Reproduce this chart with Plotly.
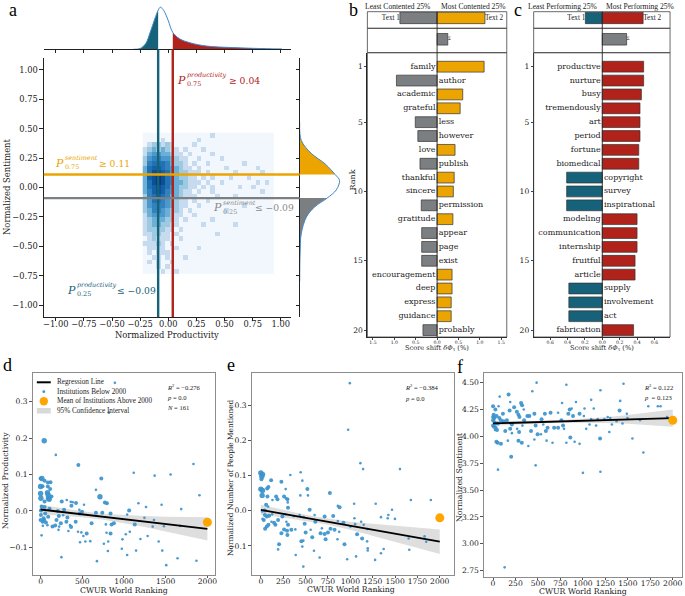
import plotly.graph_objects as go

W, H = 685, 596
SERIF = "DejaVu Serif"
TIMES = "Liberation Serif"
TEAL = "#15627a"
RED = "#b0221a"
ORANGE = "#eba400"
GRAY = "#7c7f82"
BLUE_PT = "#3b93cc"
KDE_LINE = "#3d86c6"
INK = "#222222"

# ---------------- panel a data ----------------
prod_p25, prod_p75 = -0.09, 0.04
sent_p25, sent_p75 = -0.09, 0.11
a_ticks = [-1.0, -0.75, -0.5, -0.25, 0.0, 0.25, 0.5, 0.75, 1.0]
# hexbin density levels (rows from sentiment 0.444 down to -0.716, columns from productivity -0.207 to 0.913)
hex_rows = [
    "0000000000000001",
    "0000100000001",
    "0122121000010",
    "1232321101000100",
    "1344332110100001",
    "2455443211001000010",
    "2566653221010010000000100",
    "3677654321101000001000000100",
    "3688764322111010000010000010",
    "3789865322110101000100010",
    "3689865332111010010000000101",
    "3678764322110101000001001",
    "357875432110100100000000001",
    "256765332111000010001",
    "24665432110100100",
    "2455543211001000000000100",
    "2355432210100000001",
    "134443211001",
    "12333221010000010",
    "1233221100000100000010",
    "122221101",
    "1122110100000000100",
    "012111001",
    "1112101",
    "0111100100001",
    "010111",
    "0011010001",
    "0101001",
    "000101",
    "00001001",
]
hex_x = [round(-0.207 + 0.04 * i, 3) for i in range(29)]
hex_y = [round(0.444 - 0.04 * j, 3) for j in range(30)]
prod_x = [-0.31, -0.25, -0.20, -0.16, -0.12, -0.09, -0.07, -0.04, 0.0, 0.04, 0.1, 0.2, 0.34, 0.58, 0.87, 1.01]
prod_d = [0.0, 0.02, 0.14, 0.41, 0.72, 0.93, 1.0, 0.92, 0.68, 0.40, 0.25, 0.15, 0.077, 0.04, 0.015, 0.008]
sent_y = [0.55, 0.40, 0.29, 0.20, 0.11, 0.06, -0.02, -0.09, -0.165, -0.25, -0.39, -0.56, -0.80]
sent_d = [0.0, 0.04, 0.29, 0.64, 0.89, 1.0, 0.92, 0.69, 0.375, 0.17, 0.04, 0.01, 0.0]

# ---------------- panel b / c data ----------------
ranks = list(range(1, 21))
b_words = ["family", "author", "academic", "grateful", "less", "however", "love", "publish", "thankful",
           "sincere", "permission", "gratitude", "appear", "page", "exist", "encouragement", "deep",
           "express", "guidance", "probably"]
b_vals = [1.10, -0.95, 0.60, 0.54, -0.51, -0.45, 0.42, -0.40, 0.40, 0.38, -0.37, 0.37, -0.36, -0.36,
          -0.36, 0.35, 0.35, 0.33, 0.33, -0.33]
b_text_vals = [-0.87, 1.12]
b_sum = 0.25
c_words = ["productive", "nurture", "busy", "tremendously", "art", "period", "fortune", "biomedical",
           "copyright", "survey", "inspirational", "modeling", "communication", "internship", "fruitful",
           "article", "supply", "involvement", "act", "fabrication"]
c_vals = [0.476, 0.476, 0.45, 0.434, 0.434, 0.434, 0.42, 0.42, -0.41, -0.41, -0.41, 0.40, 0.40, 0.40,
          0.377, 0.377, -0.385, -0.385, -0.385, 0.36]
c_text_vals = [-0.195, 0.47]
c_sum = 0.28
b_xticks = [-1.5, -1.0, -0.5, 0.0, 0.5, 1.0, 1.5]
b_xtext = ["1.5", "1.0", "0.5", "0.0", "0.5", "1.0", "1.5"]
c_xticks = [-0.6, -0.4, -0.2, 0.0, 0.2, 0.4, 0.6]
c_xtext = ["0.6", "0.4", "0.2", "0.0", "0.2", "0.4", "0.6"]

# ---------------- panel d data ----------------
d_x = [891, 819, 44, 183, 453,
       1117, 1368, 1559, 1833, 1905, 1686, 1451, 1264, 1173,
       1062,
       1038, 1245, 1360, 1479, 1344,
       1129,
       1070, 1022, 1197, 1416, 1284, 982, 811, 807, 974, 1145, 1038, 1459, 1507, 1642, 1869, 1674,
       728, 712, 664, 795, 771, 664, 740, 839,
       783, 851, 879, 791, 839, 759, 676,
       612, 553, 513, 449, 473, 489, 596, 537, 354,
       421, 469, 497, 465, 521, 425, 386, 362, 370,
       254, 314, 282, 219, 322, 310, 243, 223, 175, 143,
       191, 207, 270, 250, 366, 334, 215,
       0, 16, 48, 87, 119, 24, 0, 87, 115, 83,
       91, 95, 0, 4, 48,
       12, 48, 107, 4, 56, 91, 4, 36, 0, 24, 64,
       83, 28, 44, 12, 103, 131]
d_y = [0.352, 0.270, 0.193, 0.154, 0.126,
       0.105, 0.097, 0.100, 0.129, 0.043, 0.005, 0.017, 0.011, 0.021,
       0.001,
       -0.010, -0.019, -0.025, -0.042, -0.043,
       -0.037,
       -0.057, -0.064, -0.077, -0.084, -0.069, -0.078, -0.084, -0.110, -0.104, -0.109, -0.121, -0.109,
       -0.149, -0.130, -0.137, -0.041,
       0.089, 0.039, 0.058, 0.021, 0.023, -0.005, -0.005, -0.007,
       -0.037, -0.037, -0.034, -0.060, -0.062, -0.090, -0.138,
       -0.034, -0.062, -0.069, -0.057, -0.086, -0.059, -0.083, -0.084, -0.039,
       -0.030, -0.007, -0.002, 0.003, 0.017, 0.022, 0.024, 0.025, 0.014,
       0.026, 0.030, 0.003, -0.014, -0.018, -0.030, -0.034, -0.043, -0.040, -0.043,
       -0.025, 0.000, -0.012, -0.127, -0.044, -0.055, -0.052,
       0.089, 0.089, 0.083, 0.078, 0.079, 0.068, 0.067, 0.067, 0.060, 0.050,
       0.044, 0.035, 0.048, 0.035, 0.026,
       0.012, 0.011, 0.006, 0.001, -0.007, -0.016, -0.011, -0.020, -0.025, -0.030, -0.032,
       -0.039, -0.041, -0.025, -0.067, 0.032, 0.040]
d_size = ("SSLSM" "SSSSSSSSS" "M" "SSSSS" "M" "SSSSSSSSSSSSSSSS" "MLSMMMMM" "SMMSMSS" "MMSSSSSSS"
          "MMMSSMSSM" "MSMMMMMSMM" "MMSSMSS" "MLMMMMLMML" "LLLLM" "MMMMMMMMMMM" "SSMSLM")

# ---------------- panel e data ----------------
e_x = [995, 976, 1113, 1143, 1555, 330, 445, 464, 115, 230,
       0, 19, 11, 7, 0, 19, 15, 74, 71, 85,
       260, 171, 186, 282, 297, 304, 301, 442, 520, 527,
       278, 772, 861, 880, 1043, 1284, 1466, 1677, 1900, 1046,
       1343, 1418, 1499, 1425, 713, 809, 861, 924, 1002, 1054,
       1121, 1150, 1191, 1076, 1132, 1188, 1195, 1195, 1277, 1065,
       965, 935, 857, 876, 824, 779, 750, 724, 713, 683,
       668, 657, 594, 575, 557, 501, 490, 479, 475, 453,
       464, 475, 390, 341, 304, 286, 297, 293, 260, 230,
       204, 193, 163, 193, 148, 119, 67, 67, 45, 33,
       19, 48, 85, 93, 126, 45, 15, 82, 130, 59,
       241, 275, 367, 546, 601, 609, 386, 434, 1830, 1848,
       1659, 1652, 1373, 1343]
e_y = [0.364, 0.231, 0.136, 0.119, 0.119, 0.102, 0.110, 0.086, 0.087, 0.083,
       0.108, 0.104, 0.098, 0.090, 0.062, 0.058, 0.044, 0.041, 0.064, 0.068,
       0.041, 0.041, 0.033, 0.036, 0.033, 0.009, 0.024, 0.044, 0.062, 0.044,
       0.062, 0.051, 0.014, 0.010, 0.020, 0.020, 0.003, 0.031, 0.031, -0.021,
       -0.018, -0.021, -0.023, -0.012, -0.016, -0.015, -0.029, -0.034, -0.045, -0.038,
       -0.031, -0.040, -0.052, -0.067, -0.079, -0.087, -0.107, -0.113, -0.140, -0.130,
       -0.138, -0.095, -0.081, -0.060, -0.054, -0.051, -0.062, -0.081, -0.066, -0.050,
       -0.064, -0.133, -0.114, -0.075, -0.054, -0.062, -0.037, -0.018, -0.085, -0.087,
       -0.102, -0.159, -0.126, -0.054, -0.040, -0.031, -0.069, -0.057, -0.053, -0.064,
       -0.095, -0.110, -0.040, -0.026, -0.034, -0.031, -0.045, -0.016, -0.012, -0.026,
       -0.023, -0.051, -0.040, -0.014, -0.010, 0.001, -0.002, 0.012, 0.031, 0.017,
       -0.016, -0.010, -0.015, 0.003, -0.012, -0.031, -0.053, -0.012, -0.073, -0.088,
       -0.111, -0.079, -0.109, -0.121]
e_size = ("SSSSSSSSMM" "LLLMLLLMMM" "MMMSMMSSMS" "SMSMSSSSSS" "SSSSMMSMSS" "SSSMMSSSSS"
          "SMSSMMMMMS" "MSSMSMMSSM" "SSSMMSMMMM" "MSMMMSMMMM" "SMMMSMSSSM" "MSSMSMSSSS" "SSSS")

# ---------------- panel f data ----------------
f_x = [485, 437, 816, 1452, 1195, 173, 74, 191, 312, 323,
       235, 342, 923, 875, 768, 1092, 1121, 1408, 1415, 1728,
       1834, 1864, 1489, 1276, 1323, 1294, 1165, 1092, 1011, 963,
       1018, 853, 838, 890, 724, 640, 577, 540, 460, 404,
       382, 346, 294, 265, 283, 184, 110, 62, 26, 0,
       7, 0, 18, 0, 29, 44, 88, 118, 154, 210,
       191, 136, 210, 268, 290, 327, 423, 474, 496, 460,
       283, 320, 165, 37, 51, 88, 393, 202, 55, 474,
       129, 559, 607, 588, 533, 596, 680, 662, 724, 779,
       790, 761, 816, 860, 908, 963, 1000, 1195, 1191, 1147,
       1305, 1441, 1551, 1673, 1636, 1375, 1496, 1937, 1037, 1074, 1239,
       0, 15, 30, 10, 40, 22, 55, 70]
f_y = [4.50, 4.42, 4.48, 4.49, 4.43, 4.39, 4.37, 4.32, 4.31, 4.29,
       4.27, 4.25, 4.32, 4.26, 4.31, 4.34, 4.26, 4.24, 4.33, 4.28,
       4.28, 4.28, 4.21, 4.18, 4.11, 4.04, 4.16, 4.16, 4.19, 4.21,
       4.26, 4.25, 4.21, 4.19, 4.22, 4.22, 4.21, 4.16, 4.21, 4.19,
       4.19, 4.15, 4.18, 4.23, 4.20, 4.24, 4.21, 4.28, 4.25, 4.28,
       4.20, 4.15, 4.13, 4.10, 4.08, 4.06, 4.15, 4.14, 4.15, 4.11,
       4.07, 4.05, 4.03, 4.07, 4.04, 4.10, 4.05, 4.10, 4.02, 3.97,
       3.96, 3.94, 3.96, 3.95, 3.94, 3.93, 3.91, 3.81, 3.69, 3.73,
       2.78, 4.11, 4.08, 4.05, 4.02, 3.96, 4.08, 3.94, 4.08, 4.10,
       4.07, 4.15, 3.94, 3.99, 3.95, 3.93, 3.66, 3.67, 3.98, 4.10,
       4.17, 4.12, 3.98, 3.85, 4.15, 4.14, 4.17, 4.18, 4.07, 4.11, 4.16,
       4.18, 4.17, 4.12, 4.09, 4.19, 4.06, 4.12, 4.17]
f_size = ("SSSSSMSSMM" "MSSSSSSMSS" "SSSSSSSSSM" "SMMMSMMMMM" "MMMMMMMSMM" "MMMMMMMMMM"
          "MMSSMSMMMS" "MMSMMMSMSS" "SSMMSSMSMM" "SMSMSSSSMS" "SSSSSSSSSSS" "MMMMMSMM")

# regression lines, 95% CI, mean of institutions above 2000
reg_x = [0, 2000]
ci_x = [0, 250, 500, 750, 1000, 1250, 1500, 1750, 2000]
d_reg = [0.004, -0.049]
d_ci_hi = [0.017, 0.007, -0.001, -0.008, -0.012, -0.014, -0.016, -0.016, -0.017]
d_ci_lo = [-0.009, -0.013, -0.017, -0.024, -0.034, -0.044, -0.056, -0.068, -0.081]
e_reg = [0.003, -0.088]
e_ci_hi = [0.017, 0.003, -0.011, -0.022, -0.031, -0.037, -0.042, -0.048, -0.053]
e_ci_lo = [-0.011, -0.019, -0.029, -0.040, -0.054, -0.071, -0.088, -0.106, -0.123]
f_reg = [4.12, 4.17]
f_ci_hi = [4.142, 4.142, 4.146, 4.152, 4.162, 4.178, 4.198, 4.222, 4.25]
f_ci_lo = [4.098, 4.110, 4.120, 4.126, 4.128, 4.124, 4.118, 4.106, 4.09]
mean_x = 2000
d_mean, e_mean, f_mean = -0.031, -0.020, 4.15

# =====================================================================
def fx(px):
    return px / W


def fy(py):
    return 1 - py / H


fig = go.Figure()
anns = []
shapes = []
lay = {}


def txt(px, py, text, size, color=INK, anchor="left", family=SERIF, angle=0):
    anns.append(dict(x=fx(px), y=fy(py), xref="paper", yref="paper", text=text, showarrow=False,
                     xanchor=anchor, yanchor="middle", textangle=angle,
                     font=dict(size=size, color=color, family=family)))


def rect(x0, y0, x1, y1, color="#444444", width=0.8, fill="rgba(0,0,0,0)"):
    shapes.append(dict(type="rect", xref="paper", yref="paper", x0=fx(x0), x1=fx(x1), y0=fy(y1), y1=fy(y0),
                       line=dict(color=color, width=width), fillcolor=fill, layer="above"))


def xax(p0, p1, rng, anchor, **kw):
    d = dict(domain=[fx(p0), fx(p1)], range=rng, anchor=anchor, showgrid=False, zeroline=False,
             tickfont=dict(family=SERIF, size=8, color=INK), ticks="outside", ticklen=3, tickwidth=0.8,
             tickcolor=INK, linecolor=INK, linewidth=0.8)
    d.update(kw)
    return d


def yax(top, bottom, rng, anchor, **kw):
    d = dict(domain=[fy(bottom), fy(top)], range=rng, anchor=anchor, showgrid=False, zeroline=False,
             tickfont=dict(family=SERIF, size=8, color=INK), ticks="outside", ticklen=3, tickwidth=0.8,
             tickcolor=INK, linecolor=INK, linewidth=0.8)
    d.update(kw)
    return d


# ---------------- panel a ----------------
hex_colors = ["#f1f7fd", "#c6dbef", "#9ecae1", "#6baed6", "#4a98cc", "#3282bd", "#2171b5", "#1561a8",
              "#0b4f95", "#083a7a"]
hex_scale = [[i / 9, c] for i, c in enumerate(hex_colors)]
hex_z = [[int(ch) for ch in r.ljust(29, "0")[:29]] for r in hex_rows]
fig.add_trace(go.Heatmap(x=hex_x, y=hex_y, z=hex_z, colorscale=hex_scale, zmin=0, zmax=9, showscale=False,
                         hoverinfo="skip", xaxis="x", yaxis="y"))
lay["xaxis"] = xax(43, 291, [-1.106, 1.088], "y", tickvals=a_ticks, tickformat=".2f", showline=True,
                   ticklen=3.5, ticklabelstandoff=-4, tickfont=dict(family=SERIF, size=8.3, color=INK))
lay["yaxis"] = yax(58, 317, [-1.1, 1.1], "x", tickvals=a_ticks, tickformat=".2f", showline=True,
                   ticklen=3.5, tickfont=dict(family=SERIF, size=8.3, color=INK))

# top marginal (productivity density)
lo = [(x, d) for x, d in zip(prod_x, prod_d) if x <= prod_p25]
hi = [(x, d) for x, d in zip(prod_x, prod_d) if x >= prod_p75]
for part, col in ((lo, TEAL), (hi, RED)):
    fig.add_trace(go.Scatter(x=[p[0] for p in part], y=[p[1] for p in part], mode="lines", fill="tozeroy",
                             fillcolor=col, line=dict(width=0, shape="spline", color=col), hoverinfo="skip",
                             xaxis="x2", yaxis="y2"))
fig.add_trace(go.Scatter(x=prod_x, y=prod_d, mode="lines", line=dict(color=KDE_LINE, width=1, shape="spline"),
                         hoverinfo="skip", xaxis="x2", yaxis="y2"))
lay["xaxis2"] = xax(43, 291, [-1.106, 1.088], "y2", tickvals=a_ticks, showticklabels=False, showline=True)
lay["yaxis2"] = yax(3, 49.3, [0, 1.1], "x2", visible=False)

# right marginal (sentiment density)
lo = [(y, d) for y, d in zip(sent_y, sent_d) if y <= sent_p25]
hi = [(y, d) for y, d in zip(sent_y, sent_d) if y >= sent_p75]
for part, col in ((lo, GRAY), (hi, ORANGE)):
    fig.add_trace(go.Scatter(y=[p[0] for p in part], x=[p[1] for p in part], mode="lines", fill="tozerox",
                             fillcolor=col, line=dict(width=0, shape="spline", color=col), hoverinfo="skip",
                             xaxis="x3", yaxis="y3"))
fig.add_trace(go.Scatter(y=sent_y, x=sent_d, mode="lines", line=dict(color=KDE_LINE, width=1, shape="spline"),
                         hoverinfo="skip", xaxis="x3", yaxis="y3"))
lay["xaxis3"] = xax(300, 350, [0, 1.25], "y3", visible=False)
lay["yaxis3"] = yax(58, 317, [-1.1, 1.1], "x3", tickvals=a_ticks, showticklabels=False, showline=True)

# threshold lines
shapes.append(dict(type="line", xref="x", yref="paper", x0=prod_p25, x1=prod_p25, y0=fy(317), y1=fy(49.3),
                   line=dict(color=TEAL, width=2.4)))
shapes.append(dict(type="line", xref="x", yref="paper", x0=prod_p75, x1=prod_p75, y0=fy(317), y1=fy(49.3),
                   line=dict(color=RED, width=2.4)))
shapes.append(dict(type="line", xref="paper", yref="y", x0=fx(43), x1=fx(300), y0=sent_p75, y1=sent_p75,
                   line=dict(color=ORANGE, width=2.4)))
shapes.append(dict(type="line", xref="paper", yref="y", x0=fx(43), x1=fx(300), y0=sent_p25, y1=sent_p25,
                   line=dict(color=GRAY, width=2.4)))


def p_label(px, py, sup, sub, rest, rest_px, color):
    txt(px, py, "<i>P</i>", 11, color)
    txt(px + 10, py - 5, "<i>%s</i>" % sup, 6.4, color)
    txt(px + 10, py + 4, sub, 6.4, color)
    txt(rest_px, py, rest, 9.2, color)


p_label(175, 80, "productivity", "0.75", "≥ 0.04", 227, RED)
p_label(52, 163, "sentiment", "0.75", "≥ 0.11", 96, ORANGE)
p_label(211, 208, "sentiment", "0.25", "≤ −0.09", 253, "#8a8a8a")
p_label(64, 290, "productivity", "0.25", "≤ −0.09", 114, TEAL)
txt(167, 335.5, "Normalized Productivity", 8.4, INK, "center")
txt(6, 187, "Normalized Sentiment", 8.4, INK, "center", angle=-90)


# ---------------- panels b and c ----------------
def shift_panel(n, x0, x1, rng, words, vals, pos_col, neg_col, tvals, sumv, xt, xtext):
    xm, xt_, xs = "x%d" % n, "x%d" % (n + 1), "x%d" % (n + 2)
    ym, yt, ys = "y%d" % n, "y%d" % (n + 1), "y%d" % (n + 2)
    cols = [pos_col if v > 0 else neg_col for v in vals]
    fig.add_trace(go.Bar(x=vals, y=ranks, orientation="h", width=0.78, marker=dict(color=cols,
                         line=dict(color="#333333", width=0.7)), hoverinfo="skip", xaxis=xm, yaxis=ym))
    pw = [w + "\u2009" for w, v in zip(words, vals) if v > 0]
    pr = [r for r, v in zip(ranks, vals) if v > 0]
    nw = ["\u2009" + w for w, v in zip(words, vals) if v <= 0]
    nr = [r for r, v in zip(ranks, vals) if v <= 0]
    fig.add_trace(go.Scatter(x=[0] * len(pw), y=pr, text=pw, mode="text", textposition="middle left",
                             textfont=dict(family=SERIF, size=8, color=INK), cliponaxis=False,
                             hoverinfo="skip", xaxis=xm, yaxis=ym))
    fig.add_trace(go.Scatter(x=[0] * len(nw), y=nr, text=nw, mode="text", textposition="middle right",
                             textfont=dict(family=SERIF, size=8, color=INK), cliponaxis=False,
                             hoverinfo="skip", xaxis=xm, yaxis=ym))
    # Text 1 / Text 2 totals
    fig.add_trace(go.Bar(x=tvals, y=[0, 0], orientation="h", width=1.1,
                         marker=dict(color=[neg_col, pos_col], line=dict(color="#333333", width=0.7)),
                         hoverinfo="skip", xaxis=xt_, yaxis=yt))
    fig.add_trace(go.Scatter(x=[tvals[0]], y=[0], text=["Text 1"], mode="text", textposition="middle left",
                             textfont=dict(family=TIMES, size=7.2, color=INK), cliponaxis=False,
                             hoverinfo="skip", xaxis=xt_, yaxis=yt))
    fig.add_trace(go.Scatter(x=[tvals[1]], y=[0], text=["Text 2"], mode="text", textposition="middle right",
                             textfont=dict(family=TIMES, size=7.2, color=INK), cliponaxis=False,
                             hoverinfo="skip", xaxis=xt_, yaxis=yt))
    # total shift bar
    fig.add_trace(go.Bar(x=[sumv], y=[0], orientation="h", width=0.95,
                         marker=dict(color=GRAY, line=dict(color="#333333", width=0.7)),
                         hoverinfo="skip", xaxis=xs, yaxis=ys))
    fig.add_trace(go.Scatter(x=[sumv], y=[0], text=["Σ"], mode="text", textposition="middle right",
                             textfont=dict(family=SERIF, size=4.5, color=INK), cliponaxis=False,
                             hoverinfo="skip", xaxis=xs, yaxis=ys))
    lay["xaxis%d" % n] = xax(x0, x1, rng, ym, tickvals=xt, ticktext=xtext, ticklen=2, tickcolor="#444444",
                             ticklabelstandoff=-1, tickfont=dict(family=SERIF, size=4.6, color=INK))
    lay["yaxis%d" % n] = yax(52.7, 337, [20.5, -0.01], xm, tickvals=[1, 5, 10, 15, 20], ticklen=2,
                             tickcolor="#444444", tickfont=dict(family=SERIF, size=7.6, color=INK))
    lay["xaxis%d" % (n + 1)] = xax(x0, x1, rng, yt, visible=False)
    lay["yaxis%d" % (n + 1)] = yax(11.7, 28.3, [-1.0, 0.6], xt_, visible=False)
    lay["xaxis%d" % (n + 2)] = xax(x0, x1, rng, ys, visible=False)
    lay["yaxis%d" % (n + 2)] = yax(28.3, 52.7, [-1.1, 0.9], xs, visible=False)
    rect(x0, 11.7, x1, 28.3)
    rect(x0, 28.3, x1, 52.7)
    rect(x0, 52.7, x1, 337)
    shapes.append(dict(type="line", xref=xm, yref="paper", x0=0, x1=0, y0=fy(337), y1=fy(11.7),
                       line=dict(color=INK, width=0.9), layer="above"))


shift_panel(4, 368, 508, [-1.63, 1.63], b_words, b_vals, ORANGE, GRAY, b_text_vals, b_sum, b_xticks, b_xtext)
shift_panel(7, 535, 672, [-0.79, 0.78], c_words, c_vals, RED, TEAL, c_text_vals, c_sum, c_xticks, c_xtext)

txt(434, 6, "Least Contented 25%", 7.6, INK, "right", TIMES)
txt(440, 6, "Most Contented 25%", 7.6, INK, "left", TIMES)
txt(601, 6, "Least Performing 25%", 7.6, INK, "right", TIMES)
txt(606, 6, "Most Performing 25%", 7.6, INK, "left", TIMES)
txt(353, 180, "Rank", 8, INK, "center", angle=-90)
txt(438, 348, "Score shift <i>δΦ</i><sub>τ</sub> (%)", 6.6, INK, "center")
txt(604, 348, "Score shift <i>δΦ</i><sub>τ</sub> (%)", 6.6, INK, "center")

# ---------------- panels d, e, f ----------------
SZ = {"S": 2.6, "M": 4.0, "L": 5.4}


def rank_panel(n, x0, x1, top, bottom, xr, yr, xs, ys, ss, reg, hi, lo, mean, xt, yt, yfmt):
    xa, ya = "x%d" % n, "y%d" % n
    fig.add_trace(go.Scatter(x=ci_x + ci_x[::-1], y=hi + lo[::-1], fill="toself", mode="lines",
                             fillcolor="rgba(195,195,195,0.55)", line=dict(width=0), hoverinfo="skip",
                             xaxis=xa, yaxis=ya))
    fig.add_trace(go.Scatter(x=xs, y=ys, mode="markers",
                             marker=dict(size=[SZ[c] for c in ss], color=BLUE_PT, opacity=0.92, line=dict(width=0)),
                             hoverinfo="skip", xaxis=xa, yaxis=ya))
    fig.add_trace(go.Scatter(x=reg_x, y=reg, mode="lines", line=dict(color="black", width=1.8),
                             hoverinfo="skip", xaxis=xa, yaxis=ya))
    fig.add_trace(go.Scatter(x=[mean_x], y=[mean], mode="markers", marker=dict(size=9, color="#ffa500"),
                             cliponaxis=False, hoverinfo="skip", xaxis=xa, yaxis=ya))
    lay["xaxis%d" % n] = xax(x0, x1, xr, ya, tickvals=xt, showline=True, mirror=True, linecolor="#8c8c8c",
                             tickcolor="#555555", ticklen=2.5, ticklabelstandoff=-4,
                             tickfont=dict(family=SERIF, size=7.6, color=INK))
    lay["yaxis%d" % n] = yax(top, bottom, yr, xa, tickvals=yt, tickformat=yfmt, showline=True, mirror=True,
                             linecolor="#8c8c8c", tickcolor="#555555", ticklen=2.5,
                             tickfont=dict(family=SERIF, size=7.6, color=INK))


rank_panel(10, 31.7, 215, 373, 575, [-96, 2092], [-0.176, 0.379], d_x, d_y, d_size, d_reg, d_ci_hi, d_ci_lo,
           d_mean, [0, 500, 1000, 1500, 2000], [-0.1, 0.0, 0.1, 0.2, 0.3], ".1f")
rank_panel(11, 251.7, 455, 373, 575, [-103, 2159], [-0.183, 0.393], e_x, e_y, e_size, e_reg, e_ci_hi,
           e_ci_lo, e_mean, [0, 250, 500, 750, 1000, 1250, 1500, 1750, 2000], [-0.1, 0.0, 0.1, 0.2, 0.3], ".1f")
rank_panel(12, 485, 684, 373, 577, [-102, 2103], [2.69, 4.59], f_x, f_y, f_size, f_reg, f_ci_hi, f_ci_lo,
           f_mean, [0, 250, 500, 750, 1000, 1250, 1500, 1750, 2000],
           [2.75, 3.0, 3.25, 3.5, 3.75, 4.0, 4.25, 4.5], ".2f")

# legend of panel d
shapes.append(dict(type="line", xref="paper", yref="paper", x0=fx(36), x1=fx(50), y0=fy(382.3), y1=fy(382.3),
                   line=dict(color="black", width=2)))
shapes.append(dict(type="circle", xref="paper", yref="paper", x0=fx(41.6), x1=fx(44.4), y0=fy(393.1),
                   y1=fy(390.3), fillcolor=BLUE_PT, line=dict(width=0)))
shapes.append(dict(type="circle", xref="paper", yref="paper", x0=fx(38.8), x1=fx(47.2), y0=fy(405.5),
                   y1=fy(397.1), fillcolor="#ffa500", line=dict(width=0)))
shapes.append(dict(type="rect", xref="paper", yref="paper", x0=fx(36), x1=fx(50), y0=fy(413.5), y1=fy(408),
                   fillcolor="#d9d9d9", line=dict(width=0)))
txt(54, 382.3, "Regression Line", 7.2, INK, "left", TIMES)
txt(54, 391.7, "Institutions Below 2000", 7.2, INK, "left", TIMES)
txt(54, 401.3, "Mean of Institutions Above 2000", 7.2, INK, "left", TIMES)
txt(54, 410.7, "95% Confidence Interval", 7.2, INK, "left", TIMES)

txt(165, 387, "<i>R</i><sup>2</sup> = −0.276", 6.6, INK, "left", TIMES)
txt(165, 397, "<i>p</i> = 0.0", 6.6, INK, "left", TIMES)
txt(165, 407, "<i>N</i> = 161", 6.6, INK, "left", TIMES)
txt(404, 387, "<i>R</i><sup>2</sup> = −0.384", 6.6, INK, "left", TIMES)
txt(404, 398, "<i>p</i> = 0.0", 6.6, INK, "left", TIMES)
txt(644, 387, "<i>R</i><sup>2</sup> = 0.122", 6.6, INK, "left", TIMES)
txt(644, 397, "<i>p</i>  = 0.123", 6.6, INK, "left", TIMES)

txt(124, 590, "CWUR World Ranking", 7.8, INK, "center")
txt(352, 589, "CWUR World Ranking", 7.8, INK, "center")
txt(585, 591, "CWUR World Ranking", 7.8, INK, "center")
txt(5, 480, "Normalized Productivity", 7.8, INK, "center", angle=-90)
txt(230, 477, "Normalized Number of People Mentioned", 7.4, INK, "center", angle=-90)
txt(460, 477, "Normalized Sentiment", 7.8, INK, "center", angle=-90)

# panel letters
for lx, ly, lt in ((12.5, 9.8, "a"), (354, 9.8, "b"), (519, 9.8, "c"), (7, 365, "d"), (231, 365, "e"),
                   (461, 366.5, "f")):
    txt(lx, ly, lt, 18, "black", "center", TIMES)

fig.update_layout(width=W, height=H, margin=dict(l=0, r=0, t=0, b=0), paper_bgcolor="white",
                  plot_bgcolor="rgba(0,0,0,0)", barmode="overlay", showlegend=False,
                  font=dict(family=SERIF, color=INK), annotations=anns, shapes=shapes, **lay)
fig.write_html("out.html", config={"displayModeBar": False},
               post_script="document.body.style.margin='0';document.body.style.overflow='hidden';")
